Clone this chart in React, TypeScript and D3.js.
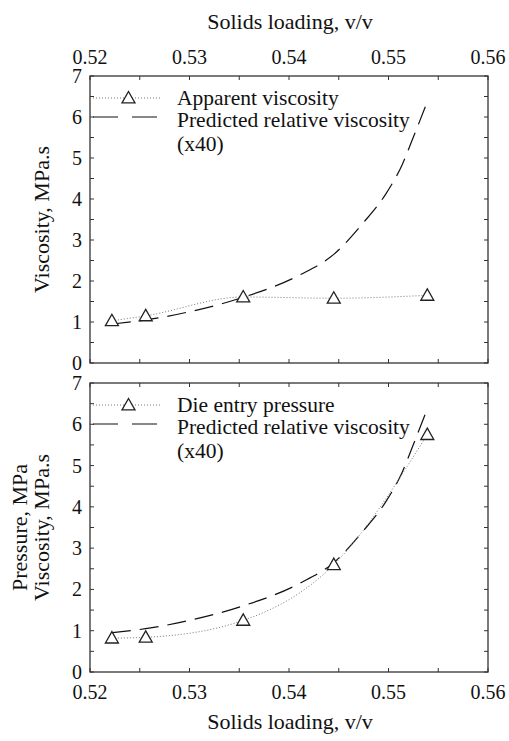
import React from "react";
import * as d3 from "d3";

// Solids loading (v/v) at which measurements were taken
const loading = [0.5222, 0.5256, 0.5354, 0.5445, 0.5539];
// Apparent viscosity, MPa.s
const apparentViscosity = [1.03, 1.15, 1.61, 1.58, 1.65];
// Die entry pressure, MPa
const dieEntryPressure = [0.82, 0.84, 1.25, 2.6, 5.75];
// Predicted relative viscosity (x40), sampled along the curve
const predictedX = [0.5222, 0.5256, 0.53, 0.5351, 0.5411, 0.5445, 0.5474, 0.5498, 0.5514, 0.5524, 0.5537];
const predictedY = [0.95, 1.05, 1.25, 1.58, 2.15, 2.65, 3.4, 4.15, 4.85, 5.45, 6.25];

const xTicks = [0.52, 0.53, 0.54, 0.55, 0.56];
const yTicks = [0, 1, 2, 3, 4, 5, 6, 7];

const W = 509;
const H = 741;
const FONT = "Liberation Serif, Times New Roman, Times, serif";
const FS = 20;
const FS_LEG = 21.5;
const FS_TITLE = 22;

const x = d3.scaleLinear().domain([0.52, 0.56]).range([90, 488]);

type PanelProps = {
  y0: number;
  y7: number;
  pts: number[];
  seriesLabel: string;
  showTopAxis: boolean;
  showBottomAxis: boolean;
};

function Triangle({ cx, cy }: { cx: number; cy: number }) {
  const s = 6.5;
  const p = `M${cx},${cy - s} L${cx + s},${cy + s * 0.75} L${cx - s},${cy + s * 0.75} Z`;
  return <path d={p} fill="white" stroke="#222" strokeWidth={1.3} />;
}

function Panel({ y0, y7, pts, seriesLabel, showTopAxis, showBottomAxis }: PanelProps) {
  const y = d3.scaleLinear().domain([0, 7]).range([y0, y7]);
  const [xl, xr] = x.range();
  const dataLine = d3
    .line<number>()
    .x((_, i) => x(loading[i]))
    .y((d) => y(d))
    .curve(d3.curveMonotoneX)(pts) as string;
  const predLine = d3
    .line<number>()
    .x((_, i) => x(predictedX[i]))
    .y((d) => y(d))
    .curve(d3.curveMonotoneX)(predictedY) as string;

  const minorX = d3.range(0, 9).map((i) => 0.52 + i * 0.005);
  const minorY = d3.range(0, 15).map((i) => i * 0.5);
  const tl = 4;

  const legX0 = 93;
  const legX1 = 160;
  const legY1 = y7 + 22;
  const legY2 = y7 + 41;

  return (
    <g>
      <g clipPath={`url(#clip${y0})`}>
        <path d={predLine} fill="none" stroke="#111" strokeWidth={1.2} strokeDasharray="19 9" />
        <path d={dataLine} fill="none" stroke="#777" strokeWidth={1} strokeDasharray="1 2" />
      </g>
      {pts.map((v, i) => (
        <Triangle key={i} cx={x(loading[i])} cy={y(v)} />
      ))}
      <rect x={xl} y={y7} width={xr - xl} height={y0 - y7} fill="none" stroke="#333" strokeWidth={1.3} />
      {minorX.map((t, i) => (
        <g key={"tx" + i} stroke="#333" strokeWidth={1}>
          <line x1={x(t)} x2={x(t)} y1={y0} y2={y0 - tl} />
          <line x1={x(t)} x2={x(t)} y1={y7} y2={y7 + tl} />
        </g>
      ))}
      {minorY.map((t, i) => (
        <g key={"ty" + i} stroke="#333" strokeWidth={1}>
          <line x1={xl} x2={xl + tl} y1={y(t)} y2={y(t)} />
          <line x1={xr} x2={xr - tl} y1={y(t)} y2={y(t)} />
        </g>
      ))}
      {yTicks.map((t) => (
        <text key={"yl" + t} x={82} y={y(t)} dy="0.35em" textAnchor="end" fontSize={FS} fontFamily={FONT} fill="#111">
          {t}
        </text>
      ))}
      {showTopAxis &&
        xTicks.map((t) => (
          <text key={"xt" + t} x={x(t)} y={y7 - 12} textAnchor="middle" fontSize={FS} fontFamily={FONT} fill="#111">
            {t.toFixed(2)}
          </text>
        ))}
      {showBottomAxis &&
        xTicks.map((t) => (
          <text key={"xb" + t} x={x(t)} y={y0 + 27} textAnchor="middle" fontSize={FS} fontFamily={FONT} fill="#111">
            {t.toFixed(2)}
          </text>
        ))}
      {/* legend */}
      <line x1={legX0} x2={legX1} y1={legY1} y2={legY1} stroke="#777" strokeWidth={1} strokeDasharray="1 2" />
      <Triangle cx={(legX0 + legX1) / 2 + 2} cy={legY1} />
      <line x1={legX0} x2={legX1} y1={legY2} y2={legY2} stroke="#111" strokeWidth={1.2} strokeDasharray="25 14" />
      <g fontSize={FS_LEG} fontFamily={FONT} fill="#111">
        <text x={177} y={y7 + 29}>{seriesLabel}</text>
        <text x={177} y={y7 + 51}>Predicted relative viscosity</text>
        <text x={177} y={y7 + 75}>(x40)</text>
      </g>
    </g>
  );
}

export default function App() {
  const topY0 = 363;
  const topY7 = 76;
  const botY0 = 672;
  const botY7 = 383;
  return (
    <svg width={W} height={H} style={{ display: "block", position: "absolute", left: 0, top: 0 }}>
      <defs>
        <clipPath id={`clip${topY0}`}>
          <rect x={90} y={topY7} width={398} height={topY0 - topY7} />
        </clipPath>
        <clipPath id={`clip${botY0}`}>
          <rect x={90} y={botY7} width={398} height={botY0 - botY7} />
        </clipPath>
      </defs>
      <rect width={W} height={H} fill="white" />
      <text x={290} y={29} textAnchor="middle" fontSize={FS_TITLE} fontFamily={FONT} fill="#111">
        Solids loading, v/v
      </text>
      <Panel y0={topY0} y7={topY7} pts={apparentViscosity} seriesLabel="Apparent viscosity" showTopAxis showBottomAxis={false} />
      <Panel y0={botY0} y7={botY7} pts={dieEntryPressure} seriesLabel="Die entry pressure" showTopAxis={false} showBottomAxis />
      <text x={290} y={729} textAnchor="middle" fontSize={FS_TITLE} fontFamily={FONT} fill="#111">
        Solids loading, v/v
      </text>
      <text transform={`translate(49, ${(topY0 + topY7) / 2}) rotate(-90)`} textAnchor="middle" fontSize={FS_TITLE} fontFamily={FONT} fill="#111">
        Viscosity, MPa.s
      </text>
      <text transform={`translate(27, ${(botY0 + botY7) / 2}) rotate(-90)`} textAnchor="middle" fontSize={FS_TITLE} fontFamily={FONT} fill="#111">
        Pressure, MPa
      </text>
      <text transform={`translate(49, ${(botY0 + botY7) / 2}) rotate(-90)`} textAnchor="middle" fontSize={FS_TITLE} fontFamily={FONT} fill="#111">
        Viscosity, MPa.s
      </text>
    </svg>
  );
}
